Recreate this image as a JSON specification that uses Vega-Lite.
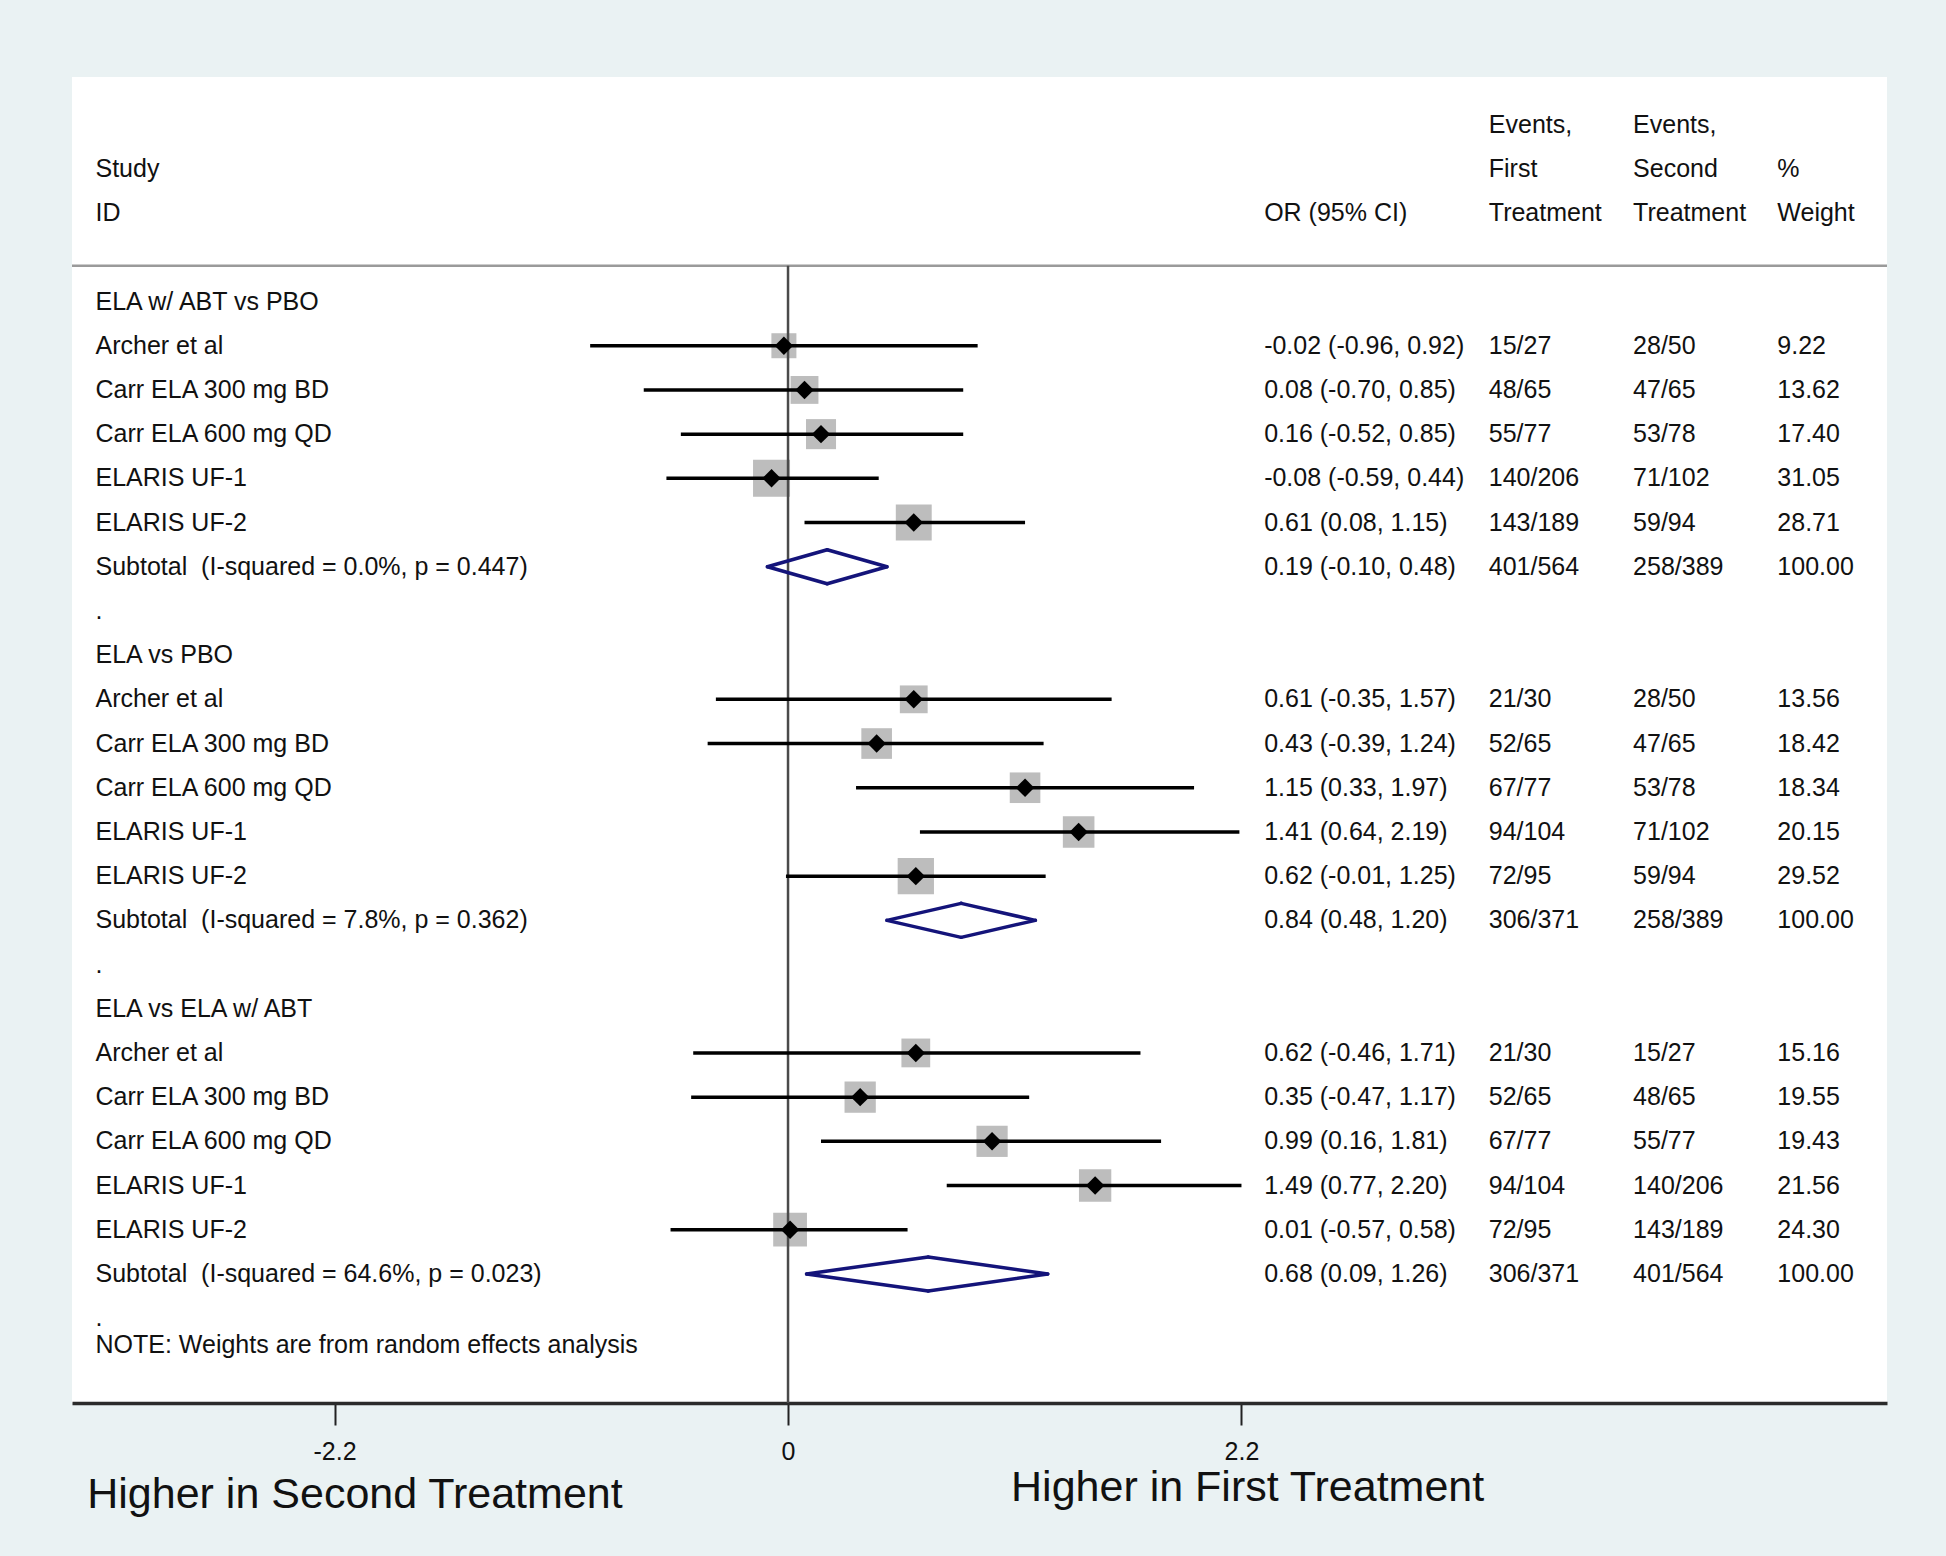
{
  "$schema": "https://vega.github.io/schema/vega-lite/v6.json",
  "autosize": "none",
  "width": 1815,
  "height": 1326,
  "padding": {"left": 72, "top": 77, "right": 59, "bottom": 153},
  "background": "#eaf2f3",
  "config": {
    "view": {"fill": "white", "stroke": null},
    "text": {"font": "Liberation Sans", "fontSize": 25, "color": "#111111", "align": "left", "baseline": "middle"}
  },
  "datasets": {
    "studies": [
      {"r": 1, "or": -0.02, "lo": -0.96, "hi": 0.92, "w": 9.22},
      {"r": 2, "or": 0.08, "lo": -0.70, "hi": 0.85, "w": 13.62},
      {"r": 3, "or": 0.16, "lo": -0.52, "hi": 0.85, "w": 17.40},
      {"r": 4, "or": -0.08, "lo": -0.59, "hi": 0.44, "w": 31.05},
      {"r": 5, "or": 0.61, "lo": 0.08, "hi": 1.15, "w": 28.71},
      {"r": 9, "or": 0.61, "lo": -0.35, "hi": 1.57, "w": 13.56},
      {"r": 10, "or": 0.43, "lo": -0.39, "hi": 1.24, "w": 18.42},
      {"r": 11, "or": 1.15, "lo": 0.33, "hi": 1.97, "w": 18.34},
      {"r": 12, "or": 1.41, "lo": 0.64, "hi": 2.19, "w": 20.15},
      {"r": 13, "or": 0.62, "lo": -0.01, "hi": 1.25, "w": 29.52},
      {"r": 17, "or": 0.62, "lo": -0.46, "hi": 1.71, "w": 15.16},
      {"r": 18, "or": 0.35, "lo": -0.47, "hi": 1.17, "w": 19.55},
      {"r": 19, "or": 0.99, "lo": 0.16, "hi": 1.81, "w": 19.43},
      {"r": 20, "or": 1.49, "lo": 0.77, "hi": 2.20, "w": 21.56},
      {"r": 21, "or": 0.01, "lo": -0.57, "hi": 0.58, "w": 24.30}
    ],
    "subtotals": [
      {"r": 6, "or": 0.19, "lo": -0.10, "hi": 0.48},
      {"r": 14, "or": 0.84, "lo": 0.48, "hi": 1.20},
      {"r": 22, "or": 0.68, "lo": 0.09, "hi": 1.26}
    ],
    "table": [
      {"r": -4, "label": "", "ci": "", "e1": "Events,", "e2": "Events,", "wt": ""},
      {"r": -3, "label": "Study", "ci": "", "e1": "First", "e2": "Second", "wt": "%"},
      {"r": -2, "label": "ID", "ci": "OR (95% CI)", "e1": "Treatment", "e2": "Treatment", "wt": "Weight"},
      {"r": 0, "label": "ELA w/ ABT vs PBO", "ci": "", "e1": "", "e2": "", "wt": ""},
      {"r": 1, "label": "Archer et al", "ci": "-0.02 (-0.96, 0.92)", "e1": "15/27", "e2": "28/50", "wt": "9.22"},
      {"r": 2, "label": "Carr ELA 300 mg BD", "ci": "0.08 (-0.70, 0.85)", "e1": "48/65", "e2": "47/65", "wt": "13.62"},
      {"r": 3, "label": "Carr ELA 600 mg QD", "ci": "0.16 (-0.52, 0.85)", "e1": "55/77", "e2": "53/78", "wt": "17.40"},
      {"r": 4, "label": "ELARIS UF-1", "ci": "-0.08 (-0.59, 0.44)", "e1": "140/206", "e2": "71/102", "wt": "31.05"},
      {"r": 5, "label": "ELARIS UF-2", "ci": "0.61 (0.08, 1.15)", "e1": "143/189", "e2": "59/94", "wt": "28.71"},
      {"r": 6, "label": "Subtotal \u00a0(I-squared = 0.0%, p = 0.447)", "ci": "0.19 (-0.10, 0.48)", "e1": "401/564", "e2": "258/389", "wt": "100.00"},
      {"r": 7, "label": ".", "ci": "", "e1": "", "e2": "", "wt": ""},
      {"r": 8, "label": "ELA vs PBO", "ci": "", "e1": "", "e2": "", "wt": ""},
      {"r": 9, "label": "Archer et al", "ci": "0.61 (-0.35, 1.57)", "e1": "21/30", "e2": "28/50", "wt": "13.56"},
      {"r": 10, "label": "Carr ELA 300 mg BD", "ci": "0.43 (-0.39, 1.24)", "e1": "52/65", "e2": "47/65", "wt": "18.42"},
      {"r": 11, "label": "Carr ELA 600 mg QD", "ci": "1.15 (0.33, 1.97)", "e1": "67/77", "e2": "53/78", "wt": "18.34"},
      {"r": 12, "label": "ELARIS UF-1", "ci": "1.41 (0.64, 2.19)", "e1": "94/104", "e2": "71/102", "wt": "20.15"},
      {"r": 13, "label": "ELARIS UF-2", "ci": "0.62 (-0.01, 1.25)", "e1": "72/95", "e2": "59/94", "wt": "29.52"},
      {"r": 14, "label": "Subtotal \u00a0(I-squared = 7.8%, p = 0.362)", "ci": "0.84 (0.48, 1.20)", "e1": "306/371", "e2": "258/389", "wt": "100.00"},
      {"r": 15, "label": ".", "ci": "", "e1": "", "e2": "", "wt": ""},
      {"r": 16, "label": "ELA vs ELA w/ ABT", "ci": "", "e1": "", "e2": "", "wt": ""},
      {"r": 17, "label": "Archer et al", "ci": "0.62 (-0.46, 1.71)", "e1": "21/30", "e2": "15/27", "wt": "15.16"},
      {"r": 18, "label": "Carr ELA 300 mg BD", "ci": "0.35 (-0.47, 1.17)", "e1": "52/65", "e2": "48/65", "wt": "19.55"},
      {"r": 19, "label": "Carr ELA 600 mg QD", "ci": "0.99 (0.16, 1.81)", "e1": "67/77", "e2": "55/77", "wt": "19.43"},
      {"r": 20, "label": "ELARIS UF-1", "ci": "1.49 (0.77, 2.20)", "e1": "94/104", "e2": "140/206", "wt": "21.56"},
      {"r": 21, "label": "ELARIS UF-2", "ci": "0.01 (-0.57, 0.58)", "e1": "72/95", "e2": "143/189", "wt": "24.30"},
      {"r": 22, "label": "Subtotal \u00a0(I-squared = 64.6%, p = 0.023)", "ci": "0.68 (0.09, 1.26)", "e1": "306/371", "e2": "401/564", "wt": "100.00"},
      {"r": 23, "label": ".", "ci": "", "e1": "", "e2": "", "wt": ""},
      {"r": 23.6, "label": "NOTE: Weights are from random effects analysis", "ci": "", "e1": "", "e2": "", "wt": ""}
    ]
  },
  "layer": [
    {
      "data": {"name": "studies"},
      "mark": {"type": "square", "filled": true, "color": "#bdbdbd", "opacity": 1},
      "encoding": {
        "x": {"field": "or", "type": "quantitative", "scale": {"domain": [-3.474, 5.332], "nice": false, "zero": false},
          "axis": {"values": [-2.2, 0, 2.2], "title": null, "grid": false, "domainColor": "#2b2b2b", "domainWidth": 3.5,
            "tickColor": "#222222", "tickWidth": 2, "tickSize": 22, "labelFont": "Liberation Sans", "labelFontSize": 25,
            "labelColor": "#111111", "labelPadding": 14,
            "labelExpr": "datum.value < 0 ? '-' + format(-datum.value, '.1f') : (datum.value == 0 ? '0' : format(datum.value, '.1f'))"}},
        "y": {"field": "r", "type": "quantitative", "scale": {"domain": [-5.08, 24.92], "reverse": true, "nice": false, "zero": false}, "axis": null},
        "size": {"field": "w", "type": "quantitative", "scale": {"domain": [0, 100], "range": [311, 3719], "zero": false}, "legend": null}
      }
    },
    {
      "data": {"values": [{}]},
      "mark": {"type": "rule", "color": "#9a9a9a", "strokeWidth": 2.5},
      "encoding": {"y": {"datum": -0.81, "type": "quantitative"}}
    },
    {
      "data": {"values": [{}]},
      "mark": {"type": "rule", "color": "#4a4a4a", "strokeWidth": 2.5},
      "encoding": {
        "x": {"datum": 0, "type": "quantitative"},
        "y": {"datum": -0.81, "type": "quantitative"},
        "y2": {"datum": 24.92}
      }
    },
    {
      "data": {"name": "studies"},
      "mark": {"type": "rule", "color": "#000000", "strokeWidth": 3.5},
      "encoding": {
        "x": {"field": "lo", "type": "quantitative"},
        "x2": {"field": "hi"},
        "y": {"field": "r", "type": "quantitative"}
      }
    },
    {
      "data": {"name": "studies"},
      "mark": {"type": "point", "shape": "diamond", "filled": true, "color": "#000000", "size": 340, "opacity": 1},
      "encoding": {
        "x": {"field": "or", "type": "quantitative"},
        "y": {"field": "r", "type": "quantitative"}
      }
    },
    {
      "data": {"name": "subtotals"},
      "mark": {"type": "rule", "color": "#14147a", "strokeWidth": 3.5, "strokeCap": "round", "y2Offset": -17},
      "encoding": {
        "x": {"field": "lo", "type": "quantitative"},
        "x2": {"field": "or"},
        "y": {"field": "r", "type": "quantitative"},
        "y2": {"field": "r"}
      }
    },
    {
      "data": {"name": "subtotals"},
      "mark": {"type": "rule", "color": "#14147a", "strokeWidth": 3.5, "strokeCap": "round", "y2Offset": 17},
      "encoding": {
        "x": {"field": "lo", "type": "quantitative"},
        "x2": {"field": "or"},
        "y": {"field": "r", "type": "quantitative"},
        "y2": {"field": "r"}
      }
    },
    {
      "data": {"name": "subtotals"},
      "mark": {"type": "rule", "color": "#14147a", "strokeWidth": 3.5, "strokeCap": "round", "yOffset": -17},
      "encoding": {
        "x": {"field": "or", "type": "quantitative"},
        "x2": {"field": "hi"},
        "y": {"field": "r", "type": "quantitative"},
        "y2": {"field": "r"}
      }
    },
    {
      "data": {"name": "subtotals"},
      "mark": {"type": "rule", "color": "#14147a", "strokeWidth": 3.5, "strokeCap": "round", "yOffset": 17},
      "encoding": {
        "x": {"field": "or", "type": "quantitative"},
        "x2": {"field": "hi"},
        "y": {"field": "r", "type": "quantitative"},
        "y2": {"field": "r"}
      }
    },
    {
      "data": {"name": "table"},
      "mark": {"type": "text"},
      "encoding": {"x": {"datum": -3.36, "type": "quantitative"}, "y": {"field": "r", "type": "quantitative"}, "text": {"field": "label"}}
    },
    {
      "data": {"name": "table"},
      "mark": {"type": "text"},
      "encoding": {"x": {"datum": 2.31, "type": "quantitative"}, "y": {"field": "r", "type": "quantitative"}, "text": {"field": "ci"}}
    },
    {
      "data": {"name": "table"},
      "mark": {"type": "text"},
      "encoding": {"x": {"datum": 3.40, "type": "quantitative"}, "y": {"field": "r", "type": "quantitative"}, "text": {"field": "e1"}}
    },
    {
      "data": {"name": "table"},
      "mark": {"type": "text"},
      "encoding": {"x": {"datum": 4.10, "type": "quantitative"}, "y": {"field": "r", "type": "quantitative"}, "text": {"field": "e2"}}
    },
    {
      "data": {"name": "table"},
      "mark": {"type": "text"},
      "encoding": {"x": {"datum": 4.80, "type": "quantitative"}, "y": {"field": "r", "type": "quantitative"}, "text": {"field": "wt"}}
    },
    {
      "data": {"values": [{"t": "Higher in Second Treatment"}]},
      "mark": {"type": "text", "fontSize": 43},
      "encoding": {"x": {"datum": -3.40, "type": "quantitative"}, "y": {"datum": 27.0, "type": "quantitative"}, "text": {"field": "t"}}
    },
    {
      "data": {"values": [{"t": "Higher in First Treatment"}]},
      "mark": {"type": "text", "fontSize": 43},
      "encoding": {"x": {"datum": 1.082, "type": "quantitative"}, "y": {"datum": 26.84, "type": "quantitative"}, "text": {"field": "t"}}
    }
  ]
}
